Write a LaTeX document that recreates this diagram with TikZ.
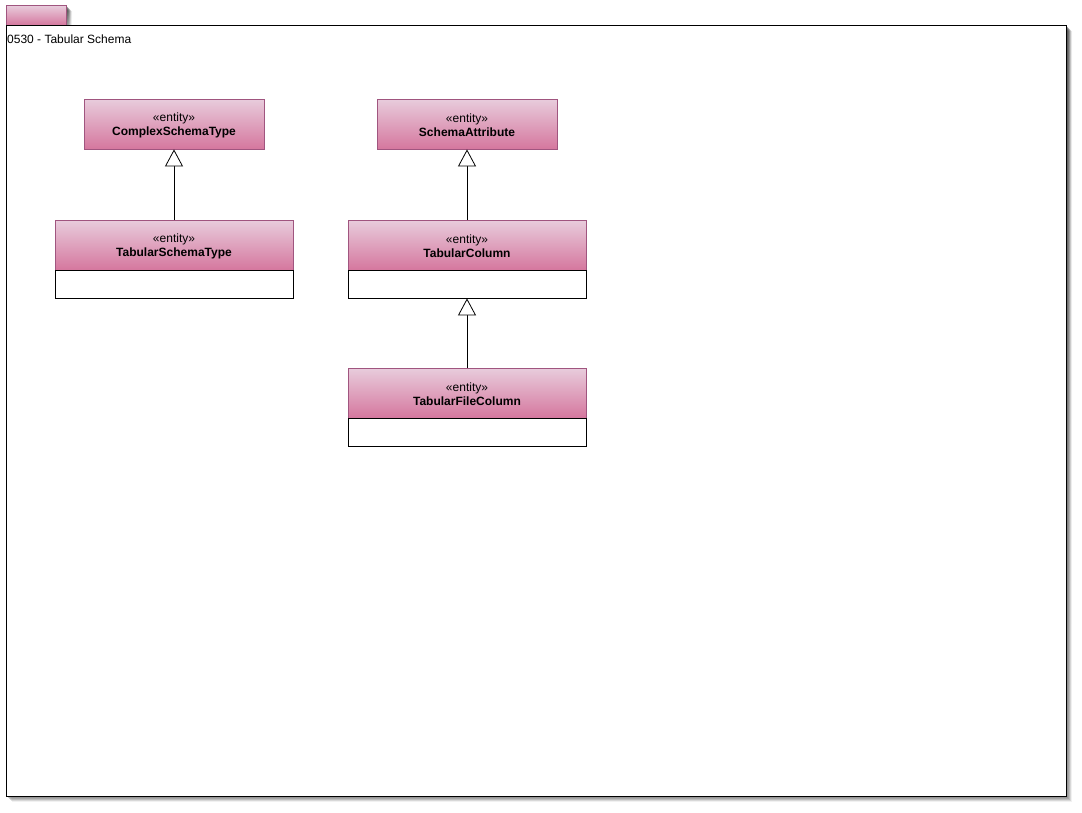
\documentclass[tikz,border=0pt]{standalone}
\usepackage{fontspec}
\setmainfont{Liberation Sans}
\usetikzlibrary{arrows.meta}
\definecolor{hdtop}{HTML}{E8CCDC}
\definecolor{hdbot}{HTML}{D5779E}
\definecolor{hdline}{HTML}{A0557F}
\definecolor{shade}{HTML}{B4B4D4}
\begin{document}
\begin{tikzpicture}[x=1pt,y=-1pt,
  header/.style={draw=hdline, line width=0.8pt, top color=hdtop, bottom color=hdbot,
    minimum width=#1, minimum height=50pt, inner sep=0pt, align=center,
    font=\fontsize{12}{14}\selectfont},
  body/.style={draw=black, line width=0.8pt, fill=white, minimum width=#1,
    minimum height=28pt, inner sep=0pt},
  inherit/.style={draw=black, line width=0.8pt,
    -{Triangle[open, length=17pt, width=18pt, fill=white]}}]
\useasboundingbox (0,0) rectangle (1082,812);

% soft shadows behind the frame and its tab
\foreach \d/\o in {1/0.3,2/0.3,3/0.25,4/0.2,5/0.12,6/0.06} {
  \fill[shade, opacity=\o] (6+\d,25+\d) rectangle (1066+\d,796+\d);
  \fill[shade, opacity=\o] (6+\d,5+\d) rectangle (66+\d,25);
}
% frame tab and frame
\node[draw=hdline, line width=0.6pt, top color=hdtop, bottom color=hdbot,
  minimum width=60pt, minimum height=20pt, inner sep=0pt, anchor=north west]
  (tab) at (6,5) {};
\node[draw=black, line width=0.8pt, fill=white, minimum width=1060pt,
  minimum height=771pt, inner sep=0pt, anchor=north west] (frame) at (6,25) {};
\node[anchor=west, inner sep=0pt, font=\fontsize{12}{14}\selectfont]
  (title) at (7,39) {0530 - Tabular Schema};

% entities
\node[header=180pt] (cst) at (174,124) {\\[-3pt]«entity»\\\textbf{ComplexSchemaType}};
\node[header=238pt] (tst) at (174,245) {\\[-3pt]«entity»\\\textbf{TabularSchemaType}};
\node[body=238pt] (tstb) at (174,284) {};

\node[header=180pt] (sa) at (467,124) {\\[-3pt]«entity»\\\textbf{SchemaAttribute}};
\node[header=238pt] (tc) at (467,245) {\\[-3pt]«entity»\\\textbf{TabularColumn}};
\node[body=238pt] (tcb) at (467,284) {};

\node[header=238pt] (tfc) at (467,393) {\\[-3pt]«entity»\\\textbf{TabularFileColumn}};
\node[body=238pt] (tfcb) at (467,432) {};

% generalisations
\draw[inherit] (tst.north) -- (cst.south);
\draw[inherit] (tc.north) -- (sa.south);
\draw[inherit] (tfc.north) -- (tcb.south);
\end{tikzpicture}
\end{document}
